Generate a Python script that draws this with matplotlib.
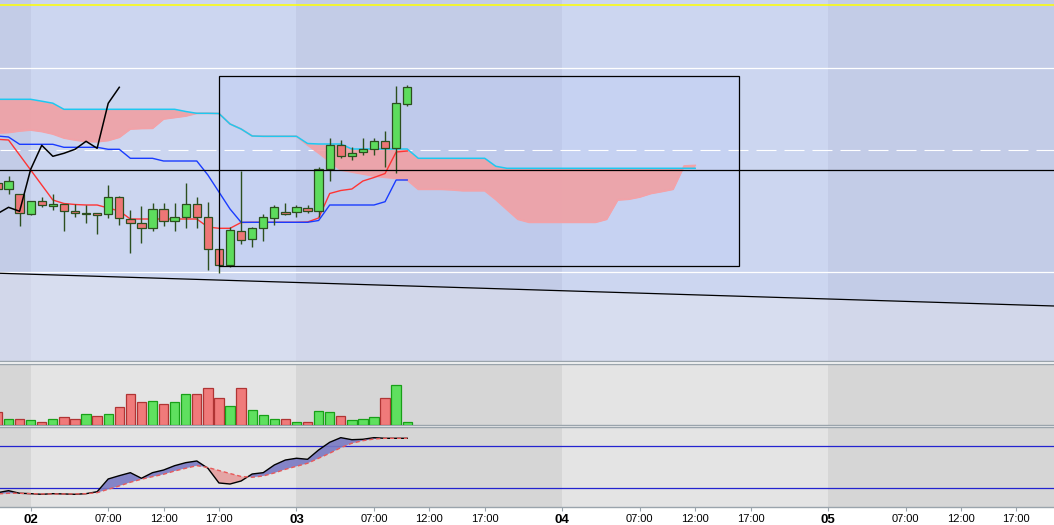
import numpy as np
import matplotlib.pyplot as plt
from matplotlib.patches import Rectangle

plt.rcParams['font.family'] = ['Liberation Sans', 'DejaVu Sans']

# hourly bars, hour 0 = day 02 00:00
hours = np.arange(-3, 35)
opens = [217, 211, 206, 186.3, 198.7, 194.3, 196, 188.7, 186.5, 186.7,
         185.7, 203, 181, 176.7, 171.7, 190.7, 178.7, 182.7, 195.7, 182.7,
         150.7, 134.7, 168.7, 160.7, 171.7, 181.7, 187.7, 187.7, 191.7, 188.7,
         230.7, 254.7, 243.7, 247.7, 250.7, 258.7, 251.7, 295.7]
highs = [220, 224, 206, 199, 203, 206, 196, 196, 194.7, 187,
         215, 204, 190, 194, 196.7, 196.7, 196.7, 216.7, 203.3, 198,
         150.7, 172.7, 229.3, 172.7, 185.7, 194.7, 196.7, 194.7, 194.7, 232.7,
         261.7, 259.7, 252.7, 261.7, 261.7, 268.7, 313.7, 314.7]
lows = [208, 206, 174.3, 185.3, 193.3, 190, 169.3, 182.7, 176.7, 166,
        181.7, 175.3, 146.7, 157.3, 169.3, 174.3, 169.3, 172.3, 172.3, 130,
        126.7, 132.7, 155.7, 152.7, 158.7, 174.7, 184.7, 183.3, 186.7, 182.7,
        218.7, 241.7, 239.7, 244.7, 244.7, 233.3, 226.7, 294.3]
closes = [211, 219, 186.7, 198.7, 194.7, 196, 188.7, 186.7, 187, 185.3,
          203, 182, 176.7, 171.7, 190.7, 178.7, 182.7, 195.7, 182.7, 150.7,
          134.7, 169.7, 159.7, 171.7, 182.7, 192.7, 186.3, 192.7, 188.7, 230.7,
          254.7, 243.7, 246.7, 250.7, 258.7, 251.7, 296.7, 312.7]
volumes = [1270, 570, 570, 470, 270, 570, 770, 570, 1070, 870,
           1070, 1770, 3070, 2270, 2370, 2070, 2270, 3070, 3070, 3670,
           2670, 1870, 3670, 1470, 970, 570, 570, 270, 270, 1370,
           1270, 870, 470, 570, 770, 2670, 3970, 270]

# oscillator (0-100)
osc_main = [13.7, 16.6, 12.9, 12.3, 11.4, 12.3, 11.9, 11.4, 12.3, 15.1,
            33.3, 38, 42.3, 34.3, 42.3, 46.1, 52.3, 56.6, 59, 48.6,
            27.6, 26.1, 30.4, 40.4, 42.3, 53.3, 60.4, 62.9, 61.4, 74.7,
            85.7, 92.3, 89.4, 90, 92.3, 91.4, 91.4, 91.4]
osc_signal = [11.9, 12.9, 12.9, 12.3, 11.9, 11.9, 11.9, 11.9, 12.3, 13.7,
              18.6, 23.3, 28.6, 32.9, 36.6, 40, 44.7, 48.6, 52.3, 49.7,
              45.4, 41.1, 36.9, 35.7, 37.6, 41.9, 47.1, 51.4, 55.7, 62.9,
              70, 78, 84.3, 88, 90.4, 91.4, 91.4, 91.4]

# ichimoku
tenkan = [260.7, 260, 245, 230, 215, 200, 196.5, 195.5, 195, 195,
          192, 189, 181, 181, 181, 181, 181, 181, 181, 173,
          171.7, 171.7, 177.5, 177.7, 177.7, 177.7, 177.7, 177.7, 178, 182,
          206.5, 209.5, 211, 219, 222.5, 226.5, 248, 249]
kijun = [264, 263, 255.7, 255.7, 255.7, 255.7, 252.7, 252.7, 252.7, 252.7,
         250.7, 250.7, 241.7, 241.7, 241.7, 239, 239, 239, 239, 225,
         208, 191, 177.7, 177.7, 177.7, 177.7, 177.7, 177.7, 177.7, 179.5,
         195, 195, 195, 195, 195, 198.3, 220, 220]
cloud_hours = np.arange(-3, 61)
senkou_a = [267, 267.5, 269, 270, 268.5, 266, 262, 260, 258.5, 258.3,
            259.5, 262.7, 271, 271.5, 271.7, 281, 282.5, 284, 286.7, 286.7,
            286.5, 276, 271, 264, 263.7, 263.7, 263.7, 263.7, 255, 247,
            238.5, 230, 228, 226, 224, 222.7, 221.7, 220, 210.7, 210.7,
            210.7, 210.2, 209.3, 209.3, 209.3, 200.5, 190.5, 180.7, 177.7, 177.7,
            177.7, 177.7, 177.7, 177.7, 177.7, 180.7, 200, 200.8, 203, 206.5,
            208.5, 210.7, 234, 234.5]
senkou_b = [300.7, 300.7, 300.7, 300.7, 298.8, 296.8, 290.7, 290.7, 290.7, 290.7,
            290.7, 290.7, 290.7, 290.7, 290.7, 290.7, 290.7, 288.5, 286.7, 286.7,
            286.5, 276, 271, 264, 263.7, 263.7, 263.7, 263.7, 256.5, 256,
            256, 256, 251, 251, 251, 251, 251, 251, 241.7, 241.7,
            241.7, 241.7, 241.7, 241.7, 241.7, 233.7, 231.7, 231.7, 231.7, 231.7,
            231.7, 231.7, 231.7, 231.7, 231.7, 231.7, 231.7, 231.7, 231.7, 231.7,
            231.7, 231.7, 231.7, 231.7]
chikou_shift = 26

# drawn objects
trend_hours = [-3, 93]
trend_price = [126.8, 93.8]
box_hours = [17, 64]
box_price = [134, 324.5]
yellow_level = 395.5
white_levels = [331.7, 127.7]
dashed_level = 249.7
black_level = 230

day_ticks = [0, 24, 48, 72]
day_labels = ['02', '03', '04', '05']
time_ticks = [7, 12, 17, 31, 36, 41, 55, 60, 65, 79, 84, 89]
time_labels = ['07:00', '12:00', '17:00'] * 4

W, H = 1054, 525
fig = plt.figure(figsize=(W / 100, H / 100), dpi=100, facecolor='white')


def panel(top, bottom):
    return fig.add_axes([0, (H - bottom) / H, 1, (bottom - top) / H])


ax = panel(0, 361)
axv = panel(364, 424.7)
axo = panel(427.3, 506.7)

xmin, xmax = -2.77, 92.4
border = '#9aa4ac'
for a, light, dark in [(ax, '#ccd6f0', '#c3cce7'),
                       (axv, '#e4e4e4', '#d6d6d6'),
                       (axo, '#e4e4e4', '#d6d6d6')]:
    for d in range(-1, 4):
        a.axvspan(d * 24, (d + 1) * 24, color=light if d % 2 == 0 else dark,
                  lw=0, zorder=0)
    a.set_xlim(xmin, xmax)
    a.set_yticks([])
    for s in a.spines.values():
        s.set_color(border)
        s.set_linewidth(1.0)
    a.spines['left'].set_visible(False)
    a.spines['right'].set_visible(False)
ax.spines['top'].set_visible(False)
ax.set_xticks([])
axv.set_xticks([])

# ---- main price panel
ax.set_ylim(39, 400)
ax.fill_between(trend_hours, trend_price, 0, color='#e6e6ee', alpha=0.45,
                lw=0, zorder=1)
ax.plot(trend_hours, trend_price, color='black', lw=0.9, zorder=3)

ax.add_patch(Rectangle((box_hours[0], box_price[0]), box_hours[1] - box_hours[0],
                       box_price[1] - box_price[0], facecolor='#b0c4ff',
                       alpha=0.18, lw=0, zorder=1))
ax.add_patch(Rectangle((box_hours[0], box_price[0]), box_hours[1] - box_hours[0],
                       box_price[1] - box_price[0], fill=False,
                       edgecolor='black', lw=0.9, zorder=6))

ax.axhline(yellow_level, color='#ffff00', lw=1.1, zorder=2)
for lvl in white_levels:
    ax.axhline(lvl, color='white', lw=0.9, zorder=2)
ax.axhline(dashed_level, color='white', lw=0.8, ls=(0, (18, 7.2)), zorder=2)
ax.axhline(black_level, color='black', lw=0.9, zorder=6)

sa = np.array(senkou_a)
sb = np.array(senkou_b)
ax.fill_between(cloud_hours, sa, sb, where=sb >= sa, interpolate=True,
                color='#f0a0a4', alpha=0.9, lw=0, zorder=2)
ax.fill_between(cloud_hours, sa, sb, where=sa >= sb, interpolate=True,
                color='#f0a0a4', alpha=0.9, lw=0, zorder=2)
ax.plot(cloud_hours, sa, color='#f2a2a8', lw=1.3, zorder=2.5)
ax.plot(cloud_hours, sb, color='#1ec8f0', lw=1.1, zorder=2.6)
ax.plot(hours, tenkan, color='#ff3434', lw=1.0, zorder=3)
ax.plot(hours, kijun, color='#1a3cff', lw=1.0, zorder=3)

o = np.array(opens)
c = np.array(closes)
up = c >= o
edge = '#2c4f1f'
ax.vlines(hours, lows, highs, color=edge, lw=1.0, zorder=4)
ax.bar(hours, np.maximum(np.abs(c - o), 0.8), 0.75, bottom=np.minimum(o, c),
       color=np.where(up, '#5ddc5d', '#ee7676'), edgecolor=edge, lw=0.9,
       zorder=5)
ax.plot(hours[:-chikou_shift], closes[chikou_shift:], color='black', lw=1.1,
        zorder=5.5)

# ---- volume panel
axv.set_ylim(0, 6070)
axv.bar(hours, volumes, 0.84, color=np.where(up, '#5fe05f', '#f07a7a'),
        edgecolor=np.where(up, '#18a018', '#b03434'), lw=0.9, zorder=3)

# ---- oscillator panel
axo.set_ylim(-6.3, 107.1)
m = np.array(osc_main)
s = np.array(osc_signal)
axo.fill_between(hours, m, s, where=m >= s, interpolate=True, color='#7a7ac4',
                 alpha=0.9, lw=0, zorder=2)
axo.fill_between(hours, m, s, where=m < s, interpolate=True, color='#e6a2a2',
                 alpha=0.95, lw=0, zorder=2)
for lvl in (20, 80):
    axo.axhline(lvl, color='#2424d0', lw=0.9, zorder=1.5)
axo.plot(hours, m, color='black', lw=1.0, zorder=3)
axo.plot(hours, s, color='#e85a5a', lw=1.0, ls=(0, (3, 2)), zorder=3.5)

axo.set_xticks(day_ticks)
axo.set_xticklabels(day_labels, fontsize=9.5, fontweight='bold')
axo.set_xticks(time_ticks, minor=True)
axo.set_xticklabels(time_labels, minor=True, fontsize=8)
axo.tick_params(which='both', direction='out', length=3, width=0.8,
                color=border, pad=2)

fig.savefig('out.png', dpi=100, facecolor='white')
